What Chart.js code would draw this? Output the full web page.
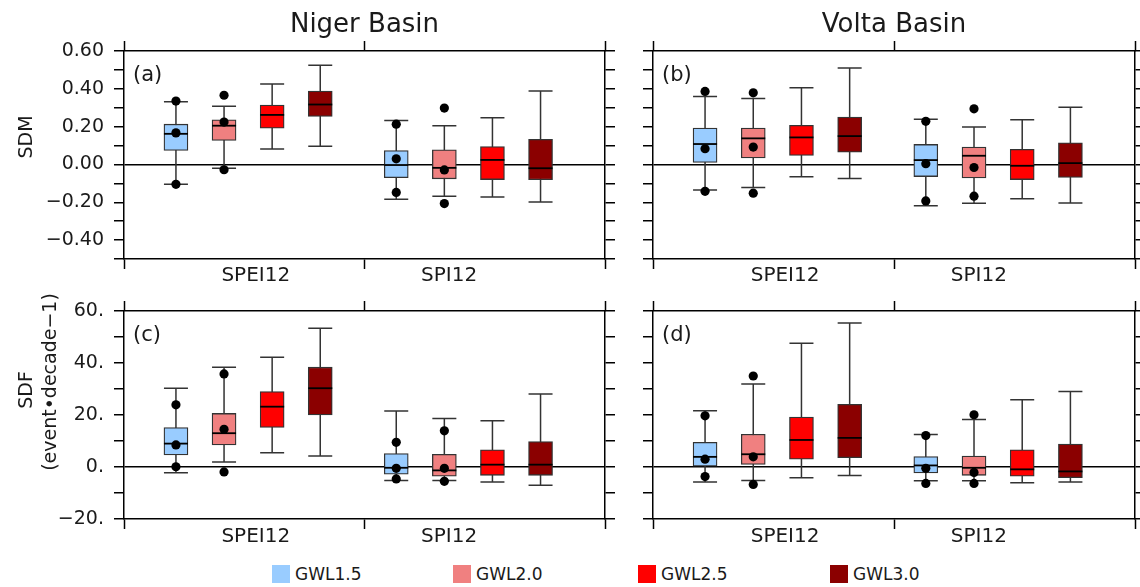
<!DOCTYPE html>
<html>
<head>
<meta charset="utf-8">
<script src="https://cdn.jsdelivr.net/npm/chart.js@4.4.1/dist/chart.umd.min.js"></script>
<style>
  body { margin: 0; background: #fff; }
  #wrap { position: relative; width: 1140px; height: 587px; overflow: hidden; font-family: "DejaVu Sans", sans-serif; }
  #wrap canvas { position: absolute; }
  .legend { position: absolute; top: 565px; height: 18px; display: flex; align-items: center; font-size: 17px; color: #1a1a1a; white-space: nowrap; }
  .legend .sw { width: 18px; height: 18px; margin-right: 5px; display: inline-block; }
</style>
</head>
<body>
<div id="wrap">
  <canvas id="chartA" width="630" height="285" style="left:0;top:0"></canvas>
  <canvas id="chartB" width="510" height="285" style="left:630px;top:0"></canvas>
  <canvas id="chartC" width="630" height="265" style="left:0;top:285px"></canvas>
  <canvas id="chartD" width="510" height="265" style="left:630px;top:285px"></canvas>
</div>
<script>
const indices = ['SPEI12', 'SPI12'];
const gwls = ['GWL1.5', 'GWL2.0', 'GWL2.5', 'GWL3.0'];

// [min, q1, median, q3, max] for each GWL, one row per index (SPEI12, SPI12)
const nigerSDM = [
  [[-0.105, 0.074, 0.162, 0.213, 0.332], [-0.020, 0.127, 0.205, 0.236, 0.308], [0.082, 0.192, 0.262, 0.314, 0.425], [0.096, 0.254, 0.317, 0.388, 0.525]],
  [[-0.184, -0.070, -0.003, 0.073, 0.232], [-0.168, -0.076, -0.018, 0.077, 0.205], [-0.172, -0.080, 0.024, 0.095, 0.247], [-0.198, -0.081, -0.020, 0.133, 0.388]]
];
const voltaSDM = [
  [[-0.135, 0.011, 0.108, 0.193, 0.359], [-0.122, 0.034, 0.138, 0.193, 0.349], [-0.065, 0.048, 0.143, 0.207, 0.405], [-0.074, 0.065, 0.150, 0.251, 0.510]],
  [[-0.218, -0.064, 0.023, 0.106, 0.239], [-0.205, -0.071, 0.046, 0.092, 0.198], [-0.182, -0.080, -0.007, 0.080, 0.237], [-0.204, -0.069, 0.007, 0.115, 0.303]]
];
const nigerSDF = [
  [[-2.2, 4.6, 9.0, 15.2, 30.3], [1.9, 8.5, 13.0, 20.6, 38.4], [5.5, 15.2, 23.2, 29.0, 42.2], [4.2, 20.0, 30.3, 38.4, 53.4]],
  [[-5.2, -2.8, -0.3, 5.2, 21.5], [-5.2, -3.5, -1.3, 4.9, 18.7], [-5.8, -3.2, 0.9, 6.6, 17.8], [-7.0, -3.2, 0.9, 9.8, 28.1]]
];
const voltaSDF = [
  [[-5.8, 0.3, 3.9, 9.5, 21.6], [-5.2, 1.0, 4.9, 12.6, 31.9], [-4.1, 3.0, 10.4, 19.2, 47.6], [-3.3, 3.6, 11.2, 24.1, 55.4]],
  [[-5.3, -2.3, 0.6, 4.0, 12.5], [-5.3, -3.2, -0.3, 4.2, 18.3], [-6.1, -3.5, -0.9, 6.6, 25.9], [-5.8, -4.1, -1.7, 8.8, 29.0]]
];

// black dots drawn over the boxes (none for GWL2.5 / GWL3.0)
const nigerSDMDots = [
  [[0.335, 0.167, -0.105], [0.366, 0.224, -0.028], [], []],
  [[0.213, 0.030, -0.148], [0.298, -0.029, -0.207], [], []]
];
const voltaSDMDots = [
  [[0.386, 0.083, -0.142], [0.379, 0.092, -0.152], [], []],
  [[0.228, 0.004, -0.193], [0.294, -0.016, -0.168], [], []]
];
const nigerSDFDots = [
  [[23.9, 8.5, 0.1], [35.8, 14.5, -1.9], [], []],
  [[9.5, -0.5, -4.6], [13.9, -0.5, -5.5], [], []]
];
const voltaSDFDots = [
  [[19.7, 3.0, -3.7], [35.0, 3.9, -6.7], [], []],
  [[12.1, -0.5, -6.3], [20.1, -2.1, -6.3], [], []]
];

const sdmRange = [-0.5, 0.6];
const sdfRange = [-20, 60];

// styles / layout
const colors = ['#99ccff', '#f08080', '#ff0000', '#8b0000'];
const groupStart = [1.08, 5.66];
const labelPos = [2.74, 6.76];
const edgeTicks = [0, 5, 10];
const FONT = 'DejaVu Sans';
const INK = '#1a1a1a';
Chart.defaults.font.family = FONT;

const boxX = (k, g) => groupStart[k] + g;

function buildDatasets(stats, dots) {
  const sets = gwls.map((name, g) => ({
    label: name,
    order: 1,
    grouped: false,
    backgroundColor: colors[g],
    borderColor: '#333',
    borderWidth: 1.3,
    borderSkipped: false,
    barThickness: 24,
    stats: indices.map((_, k) => stats[k][g]),
    data: indices.map((_, k) => ({ x: boxX(k, g), y: [stats[k][g][1], stats[k][g][3]] }))
  }));
  const pts = [];
  dots.forEach((row, k) => row.forEach((list, g) => list.forEach(v => pts.push({ x: boxX(k, g), y: v }))));
  sets.push({
    type: 'scatter', order: 0, data: pts,
    pointRadius: 4.6, pointHoverRadius: 4.6,
    pointBackgroundColor: '#000', pointBorderWidth: 0
  });
  return sets;
}

// whiskers behind the boxes, medians right after each box set
const boxPlugin = {
  id: 'boxes',
  beforeDatasetsDraw(chart) {
    const { ctx, scales: { y } } = chart;
    ctx.save();
    ctx.strokeStyle = '#333';
    ctx.lineWidth = 1.5;
    chart.data.datasets.forEach((ds, di) => {
      if (!ds.stats) return;
      const meta = chart.getDatasetMeta(di);
      ds.stats.forEach((s, i) => {
        const bar = meta.data[i];
        const hw = bar.width / 2;
        const lo = y.getPixelForValue(s[0]);
        const hi = y.getPixelForValue(s[4]);
        ctx.beginPath();
        ctx.moveTo(bar.x, lo); ctx.lineTo(bar.x, hi);
        ctx.moveTo(bar.x - hw, lo); ctx.lineTo(bar.x + hw, lo);
        ctx.moveTo(bar.x - hw, hi); ctx.lineTo(bar.x + hw, hi);
        ctx.stroke();
      });
    });
    ctx.restore();
  },
  afterDatasetDraw(chart, args) {
    const ds = chart.data.datasets[args.index];
    if (!ds.stats) return;
    const { ctx, scales: { y } } = chart;
    ctx.save();
    ctx.strokeStyle = '#000';
    ctx.lineWidth = 1.8;
    args.meta.data.forEach((bar, i) => {
      const m = y.getPixelForValue(ds.stats[i][2]);
      ctx.beginPath();
      ctx.moveTo(bar.x - bar.width / 2, m);
      ctx.lineTo(bar.x + bar.width / 2, m);
      ctx.stroke();
    });
    ctx.restore();
  }
};

const textPlugin = {
  id: 'panelText',
  afterDraw(chart, args, o) {
    const { ctx, chartArea: a } = chart;
    ctx.save();
    ctx.fillStyle = INK;
    ctx.textBaseline = 'alphabetic';
    ctx.textAlign = 'left';
    ctx.font = '21px "' + FONT + '"';
    ctx.fillText(o.letter, a.left + 9, a.top + 30);
    if (o.title) {
      ctx.font = '26px "' + FONT + '"';
      ctx.textAlign = 'center';
      ctx.fillText(o.title, (a.left + a.right) / 2, 32);
    }
    (o.yTitle || []).forEach(t => {
      ctx.save();
      ctx.translate(t.x, t.y);
      ctx.rotate(-Math.PI / 2);
      ctx.textAlign = 'center';
      ctx.font = '19px "' + FONT + '"';
      ctx.fillText(t.text, 0, 0);
      ctx.restore();
    });
    ctx.restore();
  }
};

const fmtSDM = v => {
  const n = Math.round(v * 10);
  return n % 2 === 0 ? v.toFixed(2).replace('-', '\u2212') : '';
};
const fmtSDF = v => {
  const n = Math.round(v);
  return n % 20 === 0 ? (n + '.').replace('-', '\u2212') : '';
};

function makeChart(id, stats, dots, cfg) {
  const tick = c => (c.tick && edgeTicks.includes(c.tick.value)) ? '#000' : 'rgba(0,0,0,0)';
  const yAxis = (pos, width, showLabels) => ({
    type: 'linear', position: pos, min: cfg.range[0], max: cfg.range[1],
    afterFit: s => { s.width = width; },
    ticks: {
      stepSize: cfg.step, autoSkip: false, maxTicksLimit: 30, padding: 10,
      color: INK, font: { family: FONT, size: 19 },
      callback: v => showLabels ? cfg.fmt(v) : ''
    },
    grid: {
      drawOnChartArea: pos === 'left',
      color: c => (pos === 'left' && c.tick && Math.abs(c.tick.value) < 1e-9) ? '#000' : 'rgba(0,0,0,0)',
      lineWidth: 1.5, tickLength: 10, tickWidth: 1.5, tickColor: '#000'
    },
    border: { display: true, color: '#000', width: 1.5 }
  });
  return new Chart(document.getElementById(id), {
    type: 'bar',
    data: { datasets: buildDatasets(stats, dots) },
    plugins: [boxPlugin, textPlugin],
    options: {
      responsive: false,
      animation: false,
      events: [],
      layout: { padding: 0, autoPadding: false },
      plugins: {
        legend: { display: false },
        tooltip: { enabled: false },
        panelText: cfg.text
      },
      scales: {
        x: {
          type: 'linear', position: 'bottom', min: 0, max: 10, offset: false,
          afterBuildTicks: s => { s.ticks = edgeTicks.concat(labelPos).sort((p, q) => p - q).map(v => ({ value: v })); },
          afterFit: s => { s.height = cfg.bottom; },
          ticks: {
            autoSkip: false, maxRotation: 0, padding: cfg.labelPad,
            color: INK, font: { family: FONT, size: 20 },
            callback: v => { const k = labelPos.indexOf(v); return k < 0 ? '' : indices[k]; }
          },
          grid: { drawOnChartArea: false, offset: false, tickLength: 10, tickWidth: 1.5, tickColor: tick },
          border: { display: true, color: '#000', width: 1.5 }
        },
        x2: {
          type: 'linear', position: 'top', min: 0, max: 10, offset: false,
          afterBuildTicks: s => { s.ticks = edgeTicks.map(v => ({ value: v })); },
          afterFit: s => { s.height = cfg.top; },
          ticks: { callback: () => '' },
          grid: { drawOnChartArea: false, offset: false, tickLength: 10, tickWidth: 1.5, tickColor: '#000' },
          border: { display: true, color: '#000', width: 1.5 }
        },
        y: yAxis('left', cfg.left, cfg.yLabels),
        y2: yAxis('right', cfg.right, false)
      }
    }
  });
}

makeChart('chartA', nigerSDM, nigerSDMDots, {
  range: sdmRange, step: 0.1, fmt: fmtSDM, yLabels: true,
  left: 124, right: 25, top: 51, bottom: 26, labelPad: -5,
  text: { letter: '(a)', title: 'Niger Basin', yTitle: [{ text: 'SDM', x: 32, y: 137 }] }
});
makeChart('chartB', voltaSDM, voltaSDMDots, {
  range: sdmRange, step: 0.1, fmt: fmtSDM, yLabels: false,
  left: 23, right: 5, top: 51, bottom: 26, labelPad: -5,
  text: { letter: '(b)', title: 'Volta Basin', yTitle: [] }
});
makeChart('chartC', nigerSDF, nigerSDFDots, {
  range: sdfRange, step: 10, fmt: fmtSDF, yLabels: true,
  left: 124, right: 25, top: 26, bottom: 31, labelPad: -4,
  text: { letter: '(c)', title: '', yTitle: [{ text: 'SDF', x: 32, y: 105 }, { text: '(event\u2022decade\u22121)', x: 56, y: 97 }] }
});
makeChart('chartD', voltaSDF, voltaSDFDots, {
  range: sdfRange, step: 10, fmt: fmtSDF, yLabels: false,
  left: 23, right: 5, top: 26, bottom: 31, labelPad: -4,
  text: { letter: '(d)', title: '', yTitle: [] }
});

// legend row
const legendX = [272, 453, 638, 830];
const wrap = document.getElementById('wrap');
gwls.forEach((name, g) => {
  const d = document.createElement('div');
  d.className = 'legend';
  d.style.left = legendX[g] + 'px';
  const sw = document.createElement('span');
  sw.className = 'sw';
  sw.style.background = colors[g];
  d.appendChild(sw);
  d.appendChild(document.createTextNode(name));
  wrap.appendChild(d);
});
</script>
</body>
</html>
